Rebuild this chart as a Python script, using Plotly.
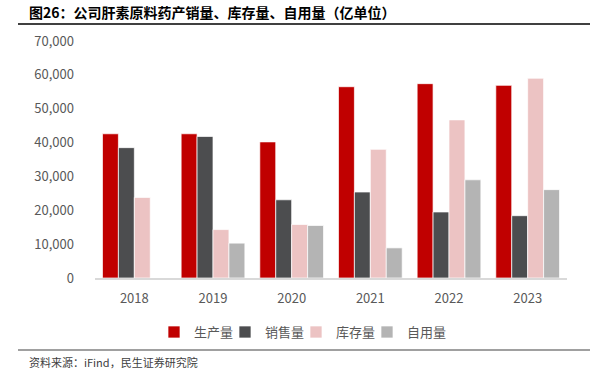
import plotly.graph_objects as go

years = ["2018", "2019", "2020", "2021", "2022", "2023"]
production = [42600, 42600, 40200, 56500, 57400, 56900]
sales = [38500, 41800, 23100, 25400, 19500, 18400]
inventory = [23800, 14300, 15800, 38000, 46700, 59000]
self_use = [0, 10300, 15500, 8900, 29000, 26100]
series_names = ["生产量", "销售量", "库存量", "自用量"]
colors = ["#C00000", "#4C4D4F", "#ECC3C3", "#B4B4B4"]
y_ticks = [0, 10000, 20000, 30000, 40000, 50000, 60000, 70000]

FONT = "Noto Sans CJK SC"

fig = go.Figure()
for name, vals, col in zip(series_names, [production, sales, inventory, self_use], colors):
    fig.add_trace(go.Bar(
        x=years, y=vals, name=name,
        marker=dict(color=col, line=dict(color="rgba(255,255,255,0.7)", width=1)),
    ))
# invisible spacer entry so the last legend label is not clipped
fig.add_trace(go.Scatter(x=[None], y=[None], mode="markers",
                         marker=dict(color="rgba(0,0,0,0)", size=1, line=dict(width=0)),
                         name=" ", hoverinfo="skip"))

PLOT_H = 381 - 41 - 103
L = 95
PW = 472

fig.update_layout(
    width=597, height=381,
    margin=dict(l=95, r=30, t=41, b=103),
    paper_bgcolor="white", plot_bgcolor="white",
    barmode="group", bargap=0.19, bargroupgap=0,
    font=dict(family=FONT, color="#595959", size=13),
    showlegend=True,
    legend=dict(orientation="h", x=(154 - L) / PW, xanchor="left", y=-0.228, yanchor="middle",
                font=dict(size=13, color="#595959"), itemwidth=30, tracegroupgap=0,
                entrywidth=26, entrywidthmode="pixels",
                traceorder="normal"),
    xaxis=dict(showline=True, linecolor="#D9D9D9", linewidth=1.5, ticks="",
               ticklabelstandoff=8, tickfont=dict(size=13, color="#595959")),
    yaxis=dict(range=[0, 70000], tickvals=y_ticks, tickformat=",d", showgrid=False,
               zeroline=False, showline=False, ticks="", ticklabelstandoff=20,
               tickfont=dict(size=13, color="#595959")),
    annotations=[
        dict(text="<b>图26：公司肝素原料药产销量、库存量、自用量（亿单位）</b>", xref="paper", yref="paper",
             x=(27 - L) / PW, y=1 + (41 - 12) / PLOT_H, xanchor="left", yanchor="middle",
             showarrow=False, font=dict(size=14, color="#000000", family=FONT)),
        dict(text="资料来源：iFind，民生证券研究院", xref="paper", yref="paper",
             x=(27 - L) / PW, y=-(362 - 278) / PLOT_H, xanchor="left", yanchor="middle",
             showarrow=False, font=dict(size=11, color="#404040", family=FONT)),
    ],
)
fig.add_shape(type="line", xref="paper", yref="paper", x0=(18 - L) / PW, x1=(590 - L) / PW,
              y0=1 + (41 - 24) / PLOT_H, y1=1 + (41 - 24) / PLOT_H,
              line=dict(color="#404040", width=2), layer="above")
fig.add_shape(type="line", xref="paper", yref="paper", x0=(18 - L) / PW, x1=(590 - L) / PW,
              y0=-(350 - 278) / PLOT_H, y1=-(350 - 278) / PLOT_H, line=dict(color="#808080", width=1.5),
              layer="above")

fig.write_html("out.html", config={"displayModeBar": False},
               post_script="document.body.style.margin='0';document.body.style.padding='0';")
